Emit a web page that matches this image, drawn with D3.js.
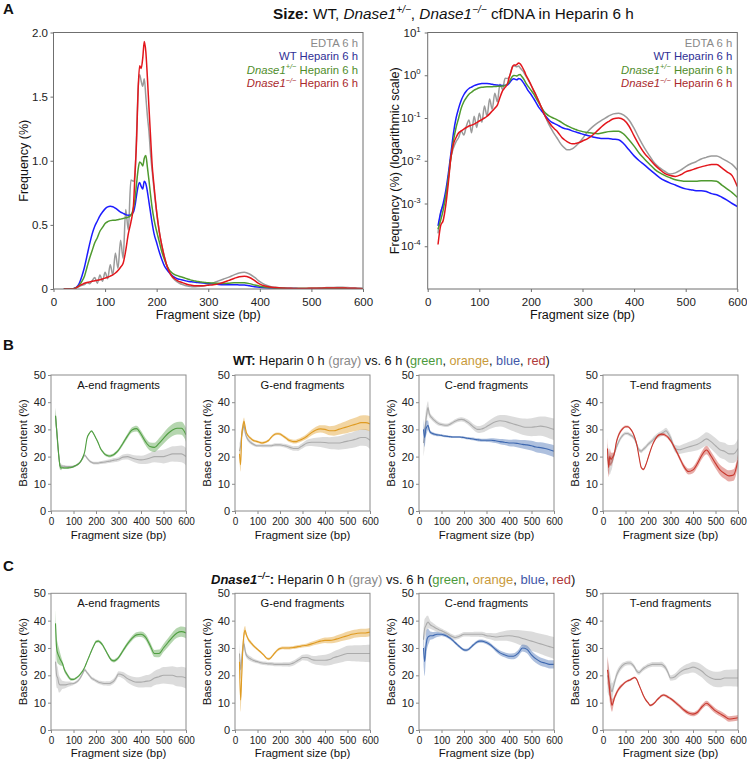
<!DOCTYPE html>
<html><head><meta charset="utf-8">
<script src="https://cdn.jsdelivr.net/npm/d3@7"></script>
<style>
body{margin:0;background:#fff}
svg{font-family:"Liberation Sans",Arial,Helvetica,sans-serif;display:block}
</style></head><body>
<svg id="c" width="747" height="761"></svg>
<script>
// ---------------- Panel A data (fragment size distribution, %) ----------------
const sizeX = [20,25,30,35,40,45,50,55,60,65,70,75,80,85,90,95,100,105,110,115,120,125,130,135,140,145,150,155,
  158,161,164,167,170,173,176,179,182,185,188,191,
  195,200,205,210,215,220,225,230,235,240,245,250,255,260,265,270,275,280,285,290,295,300,
  310,320,330,340,350,360,370,380,390,400,410,420,430,440,450,460,470,480,490,500,510,520,530,540,550,560,570,580,590,600];
const edtaFreq = [0.0002,0.0006,0.0009,0.0014,0.004,0.012,0.02,0.028,0.035,0.05,0.04,0.065,0.09,0.045,0.11,0.06,0.13,0.08,0.19,0.11,0.28,0.16,0.38,0.24,0.62,0.46,0.85,0.84,
  0.9,1.2,1.55,1.67,1.62,1.58,1.64,1.5,1.35,1.23,1.06,0.93,
  0.77,0.6,0.45,0.34,0.25,0.18,0.13,0.095,0.07,0.055,0.043,0.035,0.028,0.023,0.02,0.018,0.018,0.019,0.021,0.024,0.028,0.033,
  0.048,0.063,0.078,0.093,0.11,0.125,0.13,0.117,0.09,0.057,0.033,0.02,0.013,0.0087,0.0068,0.0056,0.0049,0.0052,0.006,0.0073,0.0085,0.0095,0.011,0.012,0.013,0.013,0.0114,0.0098,0.0082,0.0061];
const wtFreq = [0.0003,0.0006,0.001,0.002,0.005,0.015,0.045,0.1,0.17,0.26,0.35,0.43,0.49,0.53,0.57,0.6,0.625,0.64,0.645,0.642,0.63,0.615,0.6,0.59,0.58,0.575,0.578,0.6,
  0.65,0.73,0.8,0.83,0.8,0.78,0.84,0.82,0.76,0.68,0.6,0.52,
  0.43,0.36,0.29,0.23,0.18,0.15,0.125,0.105,0.09,0.08,0.075,0.07,0.065,0.06,0.057,0.055,0.053,0.05,0.048,0.046,0.044,0.042,
  0.039,0.036,0.034,0.033,0.033,0.032,0.031,0.025,0.018,0.013,0.01,0.008,0.0063,0.005,0.004,0.0034,0.003,0.0027,0.0024,0.0022,0.0021,0.002,0.002,0.0019,0.0017,0.0016,0.0014,0.0012,0.001,0.00085];
const hetFreq = [0.00025,0.0004,0.0007,0.0015,0.004,0.012,0.03,0.06,0.1,0.17,0.24,0.3,0.36,0.4,0.45,0.48,0.51,0.525,0.533,0.537,0.537,0.54,0.545,0.55,0.555,0.56,0.575,0.63,
  0.7,0.82,0.93,0.99,0.98,0.96,1.02,1.04,0.95,0.85,0.74,0.64,
  0.54,0.45,0.37,0.29,0.23,0.18,0.145,0.125,0.112,0.104,0.098,0.092,0.085,0.078,0.071,0.066,0.062,0.058,0.055,0.052,0.05,0.048,
  0.046,0.044,0.043,0.045,0.048,0.049,0.049,0.042,0.031,0.022,0.015,0.011,0.0083,0.0063,0.0052,0.0045,0.004,0.0036,0.0034,0.0033,0.0033,0.0033,0.0034,0.0034,0.0034,0.0033,0.0027,0.0022,0.0018,0.0014];
const koFreq = [0.00011,0.0003,0.0004,0.0009,0.003,0.012,0.025,0.035,0.045,0.05,0.055,0.06,0.065,0.068,0.072,0.078,0.085,0.092,0.1,0.11,0.125,0.145,0.17,0.2,0.3,0.43,0.52,0.65,
  0.9,1.15,1.55,1.74,1.72,1.8,1.93,1.85,1.65,1.42,1.2,0.98,
  0.8,0.6,0.45,0.34,0.25,0.18,0.13,0.098,0.08,0.066,0.057,0.05,0.042,0.035,0.031,0.028,0.026,0.025,0.025,0.026,0.027,0.029,
  0.033,0.04,0.052,0.067,0.082,0.096,0.1,0.09,0.065,0.038,0.023,0.015,0.011,0.008,0.0062,0.005,0.0045,0.0043,0.0047,0.0055,0.006,0.0066,0.0072,0.0077,0.0082,0.0082,0.0068,0.0055,0.0045,0.0025];
const linTicks = [0,0.5,1,1.5,2];
const linTickLabels = ["0","0.5","1.0","1.5","2.0"];
const logTicks = [1e-4,1e-3,1e-2,1e-1,1,10];
const logTickExp = ["-4","-3","-2","-1","0","1"];
const sizeTicks = [0,100,200,300,400,500,600];

// ---------------- Panels B / C data (base content, %) ----------------
const baseX = [20,25,30,35,40,45,50,60,70,80,90,100,110,120,130,140,150,160,170,180,190,200,210,220,230,240,250,260,270,280,290,300,
  320,340,360,380,400,420,440,460,480,500,520,540,560,580,600];
// WT, 0 h (gray) and 6 h (colour)
const wtA0 = [35,30,24,20,16.8,16.5,16.5,16.4,16.3,16.3,16.3,16.4,16.7,17.2,18,19.2,20.5,19.5,18.5,17.9,17.6,17.6,17.6,17.8,17.9,18,18.2,18.3,18.5,18.7,18.8,19,19.8,20,19.5,19,18.8,19,19.5,20,20,20,20.5,21,21,21,20];
const wtA6 = [35,30,25,20,16.5,15.8,15.9,15.8,15.8,15.9,16,16.3,16.7,17.2,18,19.5,21.8,26.7,28.5,29.4,28.3,26.7,25,23,21.8,20.8,20.4,20.2,20.4,20.8,21.5,22.4,24.9,27.6,29.8,30.3,28.3,25.5,23.7,23.4,24.9,26.7,28.5,29.8,30.4,30.4,28];
const wtG0 = [22,24,28,30,31.5,29,27.5,26,25.2,24.6,24.2,24,24,24,24,24,24,24,24.2,24.3,24.3,24.3,24.2,24,23.8,23.5,23.2,23,23,23,23.5,24,25,25.3,25.3,25.3,25.2,25,25,25,25.3,25.7,26,26.5,27,27,26];
const wtG6 = [21,17,28,31,33,31,29,27.5,26.7,26,25.7,25.5,25.2,25,25.2,25.5,26,27,27.8,28.3,28.4,28.3,27.8,27.2,26.6,26,25.7,25.5,25.5,25.8,26.1,26.5,27.5,28.8,29.8,30.2,30,29.5,29.5,30,30.5,31,31.5,32,32.5,32.5,32];
const wtC0 = [25,28,33,36,38,36,35,34,33.2,32.5,32,31.8,31.6,31.5,31.6,32,32.5,33,33.4,33.6,33.7,33.5,33,32.5,31.8,31,30.4,30,30,30.2,30.5,31,32,32.8,33.2,33,32.5,32,31.5,31,30.8,30.8,31,31.2,31,30.5,30];
const wtC6 = [30,27,30,31,31.5,30,29,28.5,28.2,28,27.9,27.8,27.6,27.5,27.4,27.3,27.2,27.2,27.2,27.2,27.1,27,26.8,26.7,26.6,26.5,26.3,26.2,26.1,26,26,26,26,25.8,25.5,25.3,25,25,24.8,24.5,24.3,24,23.5,23.3,23,22.5,22];
const wtT0 = [20,18,17,17.5,18,19.5,21,23.5,25.5,27,28,28.5,28.5,28,27.5,26.5,24.5,22.5,22,22.8,23.5,24.5,25.2,26,26.8,27.5,28,28.5,29,29.5,28.5,27,23,22.5,23,23.5,24,24.5,25.5,26.5,25.5,24,22.5,22,21,21,23];
const wtT6 = [23,16,20,19,19.4,20,21,25.5,28,29.5,30.5,31,31,30.4,29.2,27.3,24.5,20,16,15.3,16.9,19.4,22,24.3,26,27.3,28,28.2,28.1,27.7,27,25.9,23,19.6,16.3,14.5,15.1,17.5,20.6,22.4,20.2,17.5,15.1,13.8,12.9,13.2,18.7];
// Dnase1-/-, 0 h (gray) and 6 h (colour)
const koA0 = [25,20,19,17,16.5,16.5,16.5,16.5,16.6,16.8,16.9,17,17.4,18,19,20.5,22,21,20,19,18.5,18,17.6,17.3,17.1,17,17,17,17.4,18,19.2,20.5,20,18.8,18,17.5,17.5,17.8,18,19,19.5,20,20,20,19.5,19.5,19];
const koA6 = [39,30,28,27,26,25.2,24.5,22,20.5,19.2,18.5,18.5,18.9,19.5,20.4,21.5,23,25,27,29,30.8,32.3,32.5,32,31,29.5,28,26.5,25.5,25.3,25.7,26.5,29,31.5,33.5,34.8,35,34,31,28,28,30,32,34,35.5,36,35.5];
const koG0 = [28,22,26,30,31.5,29,27.5,26.5,26,25.5,25.2,25,24.7,24.5,24.4,24.3,24.2,24.2,24.1,24,24,24,24,24,24,24,24.2,24.5,25,25.5,26,26.5,26.5,25.8,25.5,25.5,25.5,25.8,26.5,27,27.5,28,28,28,28,28,28];
const koG6 = [25,11,20,30,35,36.5,35,33,32,31,30.2,29.5,28.8,28,27.2,26.3,26,26.5,27.5,28.5,29.3,29.8,30,30,30,30,30.1,30.2,30.3,30.5,30.6,30.8,31,31.5,32,32.5,32.8,32.8,33,33.5,34,34.5,35,35.3,35.5,35.5,35.8];
const koC0 = [33,37,38,39,39.5,39,38.5,38,37.5,37,36.6,36.3,35.9,35.5,35,34.5,34.1,33.8,34,34.3,34.7,35,35,35,35,35,35,35,35,35,34.8,34.5,34.3,34,34.2,34.4,34.5,34.3,34,33.5,33,32.5,32,31.5,31,30.5,30];
const koC6 = [30,25,30,33,34,34.3,34.5,34.5,34.8,35,35,35,34.8,34.5,34,33.5,32.8,32,31.2,30.5,29.8,29.3,29.2,29.5,30.2,31,31.7,32.3,32.5,32.5,32.3,32,31,29.5,28.2,27.5,27,27,28,30,29.5,27.5,26,25,24.5,24,24];
const koT0 = [20,18,17,15,14,15.5,17,20,21.8,23,23.8,24.3,24.5,24.5,24,23,21.5,21,21.7,22.5,23,23.5,23.8,24,24,24,24,24,23.5,22.5,20.8,19,19.5,21,22,22.5,23,22.5,21.5,20,19,18.5,18.5,19,19,19,19];
const koT6 = [22,19,14,11,9,10,11.5,13.5,15,16,16.8,17.5,18,18.3,18.8,19.2,18.5,16.5,14.5,12.5,11,10,9,9.3,10,11,11.8,12.5,12.8,12.5,12,11.5,10.2,8.8,7.3,6.2,5.8,6.5,8.5,9.8,8.5,7,6,5,4,4.2,4.5];
// read-to-read scatter half-width (%) at these fragment sizes
const spreadX = [20,50,100,200,300,400,500,600];
const wtA0s=[3,0.5,0.4,0.5,0.8,1.5,2.5,3.2], wtA6s=[3,0.4,0.3,0.4,0.6,1.2,2,2.5];
const wtG0s=[3,0.8,0.5,0.6,1,2,2.8,3.2], wtG6s=[3,0.6,0.4,0.5,0.8,1.5,2.3,2.8];
const wtC0s=[5,1,0.6,0.8,1.5,2.5,3.3,4], wtC6s=[4,0.6,0.4,0.4,0.6,1.2,1.8,2.2];
const wtT0s=[5,1,0.6,0.8,1.2,2,2.8,3.5], wtT6s=[4,1,0.4,0.4,0.6,1.2,1.8,2.2];
const koA0s=[5,1.5,0.5,0.6,1,2,3,3.8], koA6s=[5,1,0.4,0.5,0.6,1,1.5,2];
const koG0s=[4,1,0.6,0.7,1,2,2.8,3.2], koG6s=[5,0.8,0.4,0.5,0.6,1,1.5,1.5];
const koC0s=[4,1.5,0.8,0.8,1,2,3.5,4], koC6s=[6,1.5,0.6,0.5,0.6,1,1.5,1.5];
const koT0s=[6,1.5,0.8,0.8,1,2,2.8,3.2], koT6s=[5,1,0.4,0.4,0.5,0.8,1,1];
const baseYTicks = [0,10,20,30,40,50];
const endNames = ["A-end fragments","G-end fragments","C-end fragments","T-end fragments"];

// ---------------- drawing ----------------
const svg = d3.select("#c");
const C = {gray:"#9b9b9b", blue:"#1c1cff", green:"#4f9a2f", red:"#e3161c",
  lgGray:"#8a8a8a", lgBlue:"#2f2f95", lgGreen:"#4f8d2b", lgRed:"#a9282c",
  bGray:"#ababab", bGreen:"#4f9e40", bOrange:"#df9b22", bBlue:"#3e68b0", bRed:"#c8372d",
  tGreen:"#4c9a3c", tOrange:"#c99a3a", tBlue:"#4157a8", tRed:"#b03a3a", tGray:"#8a8a8a"};

function rich(sel, parts, size){
  let cur = 0;
  parts.forEach(p=>{
    const ts = sel.append("tspan").text(p.t);
    if(p.b) ts.attr("font-weight","bold");
    if(p.i) ts.attr("font-style","italic");
    if(p.c) ts.attr("fill",p.c);
    const t = p.sup ? -size*0.38 : 0;
    if(p.sup) ts.attr("font-size", size*0.66);
    if(t!==cur) ts.attr("dy", t-cur);
    cur = t;
  });
}
function letter(t,x,y){ svg.append("text").attr("x",x).attr("y",y).attr("font-size",15).attr("font-weight","bold").attr("fill","#111").text(t); }

let clipId = 0;
function clip(x0,y0,x1,y1){
  const id = "cp"+(clipId++);
  svg.append("clipPath").attr("id",id).append("rect").attr("x",x0).attr("y",y0).attr("width",x1-x0).attr("height",y1-y0);
  return "url(#"+id+")";
}
function styleAxis(g, fs, col){
  g.select(".domain").remove();
  g.selectAll(".tick line").attr("stroke",col);
  g.selectAll(".tick text").attr("fill","#222").attr("font-size",fs).attr("font-family","Liberation Sans, Arial, sans-serif");
}

// ---- Panel A ----
letter("A",3,13.5);
rich(svg.append("text").attr("x",273).attr("y",19).attr("font-size",15.3).attr("fill","#111"),
  [{t:"Size:",b:1},{t:" WT, "},{t:"Dnase1",i:1},{t:"+/−",i:1,sup:1},{t:", "},{t:"Dnase1",i:1},{t:"−/−",i:1,sup:1},{t:" cfDNA in Heparin 6 h"}],15.3);

const seriesA = [
  {v:edtaFreq, c:C.gray, lc:C.lgGray, label:[{t:"EDTA 6 h"}]},
  {v:wtFreq, c:C.blue, lc:C.lgBlue, label:[{t:"WT Heparin 6 h"}]},
  {v:hetFreq, c:C.green, lc:C.lgGreen, label:[{t:"Dnase1",i:1},{t:"+/−",i:1,sup:1},{t:" Heparin 6 h"}]},
  {v:koFreq, c:C.red, lc:C.lgRed, label:[{t:"Dnase1",i:1},{t:"−/−",i:1,sup:1},{t:" Heparin 6 h"}]}
];

function panelA(x0,x1,y0,y1,yScale,isLog){
  const x = d3.scaleLinear([0,600],[x0,x1]);
  const y = yScale.range([y1,y0]);
  const cp = clip(x0,y0,x1,y1);
  const line = d3.line().x((d,i)=>x(sizeX[i])).y(d=>y(d)).curve(d3.curveMonotoneX);
  const g = svg.append("g").attr("clip-path",cp);
  seriesA.forEach(s=>{
    g.append("path").attr("d",line(s.v)).attr("fill","none").attr("stroke",s.c).attr("stroke-width",1.5).attr("stroke-linejoin","round");
  });
  svg.append("rect").attr("x",x0).attr("y",y0).attr("width",x1-x0).attr("height",y1-y0).attr("fill","none").attr("stroke","#6f6f6f").attr("stroke-width",1);
  const gx = svg.append("g").attr("transform",`translate(0,${y1})`)
    .call(d3.axisBottom(x).tickValues(sizeTicks).tickSize(3).tickPadding(5.5).tickSizeOuter(0));
  styleAxis(gx,11.5,"#6f6f6f");
  svg.append("text").attr("x",(x0+x1)/2).attr("y",319).attr("text-anchor","middle").attr("font-size",12.5).attr("fill","#111").text("Fragment size (bp)");
  if(!isLog){
    const gy = svg.append("g").attr("transform",`translate(${x0},0)`)
      .call(d3.axisLeft(y).tickValues(linTicks).tickFormat((d,i)=>linTickLabels[i]).tickSize(3).tickPadding(2.5).tickSizeOuter(0));
    styleAxis(gy,11.5,"#6f6f6f");
    svg.append("text").attr("transform",`translate(${x0-25.5},${(y0+y1)/2}) rotate(-90)`).attr("text-anchor","middle").attr("font-size",12.5).attr("fill","#111").text("Frequency (%)");
  } else {
    const gy = svg.append("g").attr("transform",`translate(${x0},0)`)
      .call(d3.axisLeft(y).tickValues(logTicks).tickFormat(()=>"").tickSize(3).tickSizeOuter(0));
    styleAxis(gy,11.5,"#6f6f6f");
    gy.selectAll(".tick").each(function(d,i){
      const t = d3.select(this).append("text").attr("x",-7).attr("dy","0.32em").attr("text-anchor","end").attr("fill","#222").attr("font-size",11.5);
      t.append("tspan").text("10");
      t.append("tspan").text(logTickExp[i]).attr("font-size",7.8).attr("dy",-5);
    });
    svg.append("text").attr("transform",`translate(${x0-28.5},${(y0+y1)/2}) rotate(-90)`).attr("text-anchor","middle").attr("font-size",12.5).attr("fill","#111").text("Frequency (%) (logarithmic scale)");
  }
  seriesA.forEach((s,i)=>{
    rich(svg.append("text").attr("x",x1-5).attr("y",46.5+i*13.6).attr("text-anchor","end").attr("font-size",11.3).attr("fill",s.lc), s.label, 11.3);
  });
}
panelA(53.5,363,32.5,289,d3.scaleLinear().domain([0,2]),false);
panelA(427.7,737.3,32.5,289,d3.scaleLog().domain([1e-5,10]),true);

// ---- Panels B, C ----
const lefts = [51,235,419,603];
const W = 135;
function basePanel(left, top, bottom, tickBase, titleBase, subBase, name, g0, g6, s0, s6, col){
  const x = d3.scaleLinear([0,600],[left,left+W]);
  const y = d3.scaleLinear([0,50],[bottom,top]);
  const cp = clip(left,top,left+W,bottom);
  const g = svg.append("g").attr("clip-path",cp);
  [[g0,s0,C.bGray],[g6,s6,col]].forEach(([v,s,c])=>{
    const sp = d3.scaleLinear(spreadX,s).clamp(true);
    const area = d3.area().x((d,i)=>x(baseX[i])).y0((d,i)=>y(d-sp(baseX[i]))).y1((d,i)=>y(d+sp(baseX[i]))).curve(d3.curveMonotoneX);
    const line = d3.line().x((d,i)=>x(baseX[i])).y(d=>y(d)).curve(d3.curveMonotoneX);
    g.append("path").attr("d",area(v)).attr("fill",c).attr("fill-opacity",0.42).attr("stroke","none");
    g.append("path").attr("d",line(v)).attr("fill","none").attr("stroke",c).attr("stroke-width",1.1);
  });
  svg.append("rect").attr("x",left).attr("y",top).attr("width",W).attr("height",bottom-top).attr("fill","none").attr("stroke","#8c8c8c").attr("stroke-width",1);
  const gx = svg.append("g").attr("transform",`translate(0,${bottom})`)
    .call(d3.axisBottom(x).tickValues(sizeTicks).tickSize(3).tickPadding(2.5).tickSizeOuter(0));
  styleAxis(gx,10,"#8c8c8c");
  gx.selectAll(".tick text").attr("y",tickBase-bottom).attr("dy",0);
  const gy = svg.append("g").attr("transform",`translate(${left},0)`)
    .call(d3.axisLeft(y).tickValues(baseYTicks).tickSize(3).tickPadding(2).tickSizeOuter(0));
  styleAxis(gy,11,"#8c8c8c");
  svg.append("text").attr("x",left+W/2).attr("y",titleBase).attr("text-anchor","middle").attr("font-size",11.4).attr("fill","#111").text("Fragment size (bp)");
  svg.append("text").attr("transform",`translate(${left-24},${(top+bottom)/2}) rotate(-90)`).attr("text-anchor","middle").attr("font-size",11.4).attr("fill","#111").text("Base content (%)");
  svg.append("text").attr("x",left+W/2).attr("y",subBase).attr("text-anchor","middle").attr("font-size",11.2).attr("fill","#111").text(name);
}
const tailParts = [{t:" Heparin 0 h "},{t:"(gray)",c:C.tGray},{t:" vs. 6 h ("},{t:"green",c:C.tGreen},{t:", "},{t:"orange",c:C.tOrange},{t:", "},{t:"blue",c:C.tBlue},{t:", "},{t:"red",c:C.tRed},{t:")"}];

letter("B",3,350);
rich(svg.append("text").attr("x",233).attr("y",365).attr("font-size",12.7).attr("fill","#111"), [{t:"WT:",b:1}].concat(tailParts), 12.7);
const rowB = [[wtA0,wtA6,wtA0s,wtA6s,C.bGreen],[wtG0,wtG6,wtG0s,wtG6s,C.bOrange],[wtC0,wtC6,wtC0s,wtC6s,C.bBlue],[wtT0,wtT6,wtT0s,wtT6s,C.bRed]];
rowB.forEach((r,i)=>basePanel(lefts[i],375,511,525,538.5,389,endNames[i],r[0],r[1],r[2],r[3],r[4]));

letter("C",3,570.5);
rich(svg.append("text").attr("x",211).attr("y",584).attr("font-size",13).attr("fill","#111"), [{t:"Dnase1",b:1,i:1},{t:"−/−",b:1,i:1,sup:1},{t:":",b:1}].concat(tailParts), 13);
const rowC = [[koA0,koA6,koA0s,koA6s,C.bGreen],[koG0,koG6,koG0s,koG6s,C.bOrange],[koC0,koC6,koC0s,koC6s,C.bBlue],[koT0,koT6,koT0s,koT6s,C.bRed]];
rowC.forEach((r,i)=>basePanel(lefts[i],593.3,730,743.5,756.5,607,endNames[i],r[0],r[1],r[2],r[3],r[4]));
</script>
</body></html>
